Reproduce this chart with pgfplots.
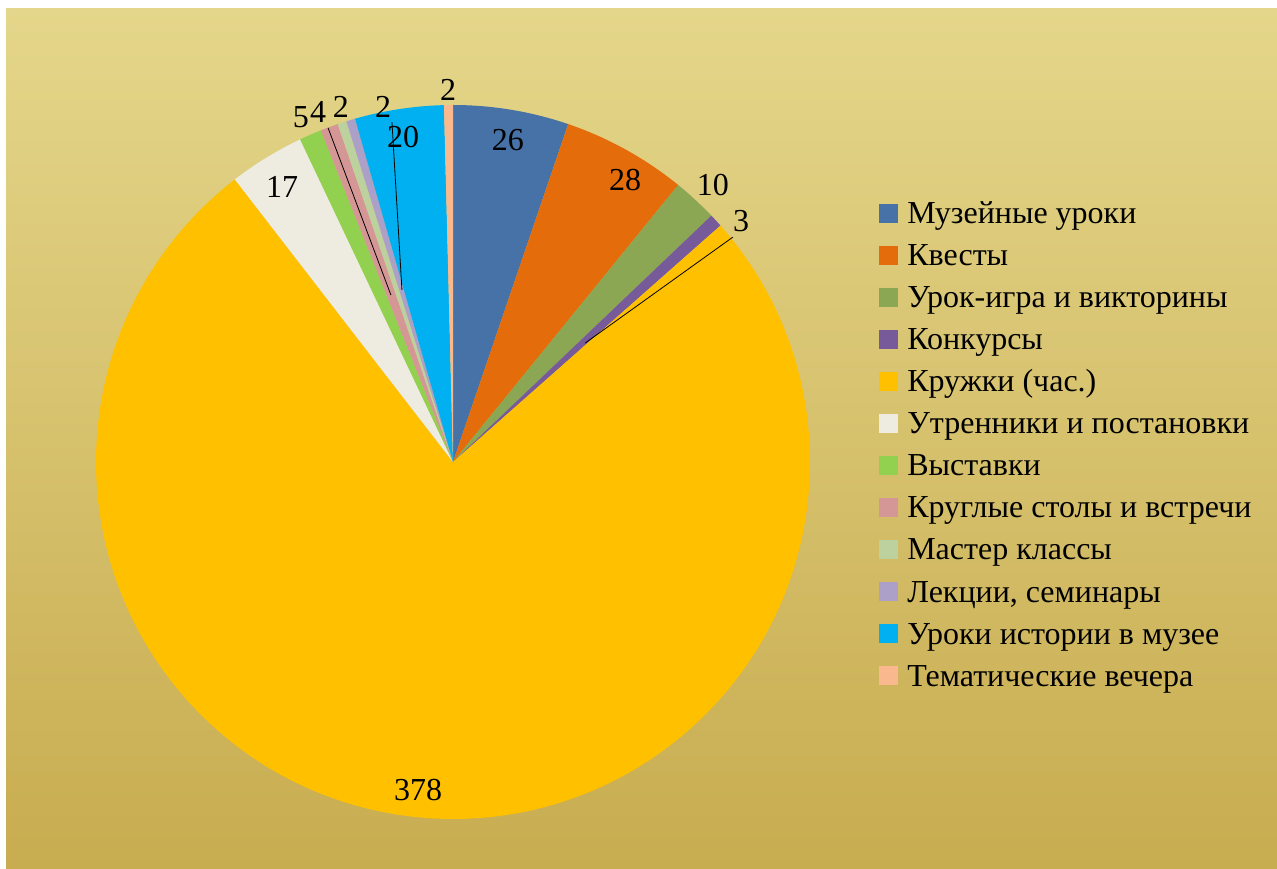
\documentclass[border=0pt]{standalone}
\usepackage{pgfplots}
\pgfplotsset{compat=1.18}
\usepackage{pgfplotstable}
\usepackage{fontspec}
\setmainfont{Liberation Serif}

\definecolor{c0}{HTML}{4672A7}
\definecolor{c1}{HTML}{E46C0A}
\definecolor{c2}{HTML}{8BA753}
\definecolor{c3}{HTML}{765A9A}
\definecolor{c4}{HTML}{FFC000}
\definecolor{c5}{HTML}{EEECE1}
\definecolor{c6}{HTML}{92D050}
\definecolor{c7}{HTML}{D59795}
\definecolor{c8}{HTML}{BDD19E}
\definecolor{c9}{HTML}{ACA0C8}
\definecolor{c10}{HTML}{00B0F0}
\definecolor{c11}{HTML}{FAB88F}
\definecolor{bgtop}{HTML}{E4D68A}
\definecolor{bgbot}{HTML}{C8AC50}

\pgfplotstableread[col sep=semicolon]{
name;val;lx;ly
Музейные уроки;26;0.154;0.902
Квесты;28;0.482;0.790
Урок-игра и викторины;10;0.728;0.776
Конкурсы;3;0.807;0.675
Кружки (час.);378;-0.098;-0.919
Утренники и постановки;17;-0.479;0.770
Выставки;5;-0.426;0.966
Круглые столы и встречи;4;-0.378;0.980
Мастер классы;2;-0.314;0.996
Лекции, семинары;2;-0.196;0.996
Уроки истории в музее;20;-0.140;0.910
Тематические вечера;2;-0.014;1.043
}\piedata

\begin{document}
\begin{tikzpicture}[every node/.style={font=\fontsize{24}{28}\selectfont}]
\begin{scope}[x=0.75pt,y=0.75pt]
\useasboundingbox (0,0) rectangle (1277,868);
\fill[white] (0,0) rectangle (1277,868);
\shade[top color=bgtop, bottom color=bgbot] (6,0) rectangle (1277,859);
\end{scope}
\begin{axis}[at={(339.75pt,304.5pt)}, anchor=center, scale only axis,
  width=535.5pt, height=535.5pt, xmin=-1, xmax=1, ymin=-1, ymax=1,
  hide axis, clip=false]
\pgfplotstablegetrowsof{\piedata}\pgfmathtruncatemacro\nrows{\pgfplotsretval-1}
\def\total{0}
\pgfplotsforeachungrouped \i in {0,...,\nrows}{%
  \pgfplotstablegetelem{\i}{val}\of\piedata
  \pgfmathsetmacro\total{\total+\pgfplotsretval}}
\def\cum{0}
\pgfplotsforeachungrouped \i in {0,...,\nrows}{%
  \pgfplotstablegetelem{\i}{val}\of\piedata \let\v\pgfplotsretval
  \pgfmathsetmacro\aone{90-\cum/\total*360}
  \pgfmathsetmacro\atwo{90-(\cum+\v)/\total*360}
  \edef\temp{\noexpand\fill[c\i] (axis cs:0,0) -- (axis cs:{cos(\aone)},{sin(\aone)}) arc[start angle=\aone, end angle=\atwo, radius=267.75pt] -- cycle;}%
  \temp
  \pgfmathsetmacro\cum{\cum+\v}
}
\pgfplotsforeachungrouped \i in {0,...,\nrows}{%
  \pgfplotstablegetelem{\i}{val}\of\piedata \let\v\pgfplotsretval
  \pgfplotstablegetelem{\i}{lx}\of\piedata \let\lx\pgfplotsretval
  \pgfplotstablegetelem{\i}{ly}\of\piedata \let\ly\pgfplotsretval
  \edef\temp{\noexpand\node[inner sep=0pt] at (axis cs:\lx,\ly) {\v};}%
  \temp
}
\draw[black, line width=0.6pt] (axis cs:0.784,0.630) -- (axis cs:0.370,0.333);
\draw[black, line width=0.6pt] (axis cs:-0.350,0.936) -- (axis cs:-0.174,0.468);
\draw[black, line width=0.6pt] (axis cs:-0.171,0.952) -- (axis cs:-0.143,0.482);
\end{axis}
\begin{scope}[x=0.75pt,y=0.75pt]
\pgfplotstablegetrowsof{\piedata}\pgfmathtruncatemacro\nrows{\pgfplotsretval-1}
\pgfplotsforeachungrouped \i in {0,...,\nrows}{%
  \pgfplotstablegetelem{\i}{name}\of\piedata
  \fill[c\i] (879,{868-223-42*\i}) rectangle ++(19,19);
  \node[anchor=base west, inner sep=0pt] at (907,{868-224-42*\i}) {\pgfplotsretval};
}
\end{scope}
\end{tikzpicture}
\end{document}
